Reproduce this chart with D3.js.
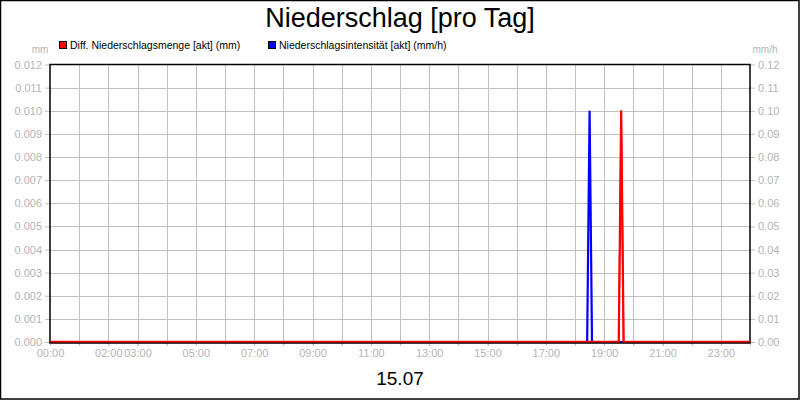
<!DOCTYPE html>
<html><head><meta charset="utf-8">
<script src="https://cdn.jsdelivr.net/npm/d3@7"></script>
<style>body{margin:0;background:#fff}svg{display:block}text{font-family:"Liberation Sans",Arial,sans-serif}</style>
</head><body>
<svg id="c" width="800" height="400"></svg>
<script>
const title = "Niederschlag [pro Tag]";
const dateLabel = "15.07";
const seriesNames = ["Diff. Niederschlagsmenge [akt] (mm)", "Niederschlagsintensität [akt] (mm/h)"];
const seriesColors = ["#ff0000", "#0000ff"];
// times in hours of the day
const mengeTimes = [0, 19.5, 19 + 35/60, 19 + 40/60, 24];
const mengeValues = [0, 0, 0.010, 0, 0];
const intensTimes = [0, 18 + 25/60, 18.5, 18 + 35/60, 24];
const intensValues = [0, 0, 0.10, 0, 0];
const xTickHours = [0, 2, 3, 5, 7, 9, 11, 13, 15, 17, 19, 21, 23];
const xTickLabels = ["00:00","02:00","03:00","05:00","07:00","09:00","11:00","13:00","15:00","17:00","19:00","21:00","23:00"];
const leftTicks = [0,0.001,0.002,0.003,0.004,0.005,0.006,0.007,0.008,0.009,0.010,0.011,0.012];
const rightTicks = [0,0.01,0.02,0.03,0.04,0.05,0.06,0.07,0.08,0.09,0.10,0.11,0.12];

const svg = d3.select("#c");
const L = 50, R = 750, T = 64.5, B = 342;
const x = d3.scaleLinear().domain([0, 24]).range([L, R]);
const yL = d3.scaleLinear().domain([0, 0.012]).range([B, T]);
const yR = d3.scaleLinear().domain([0, 0.12]).range([B, T]);
const grey = "#c0c0c0", labGrey = "#b4b4b4";

svg.append("rect").attr("x",0.5).attr("y",0.5).attr("width",798.5).attr("height",398.5)
  .attr("fill","#fff").attr("stroke","#000").attr("stroke-width",1.5);

// grid
svg.append("g").selectAll("line").data(d3.range(1,24)).join("line")
  .attr("x1", d=>Math.round(x(d))+0.5).attr("x2", d=>Math.round(x(d))+0.5)
  .attr("y1", T).attr("y2", B+4).attr("stroke", grey);
svg.append("g").selectAll("line").data(leftTicks.slice(1,-1)).join("line")
  .attr("x1", L).attr("x2", R).attr("y1", d=>Math.round(yL(d))+0.5).attr("y2", d=>Math.round(yL(d))+0.5)
  .attr("stroke", grey);

// left axis
const gl = svg.append("g").attr("transform",`translate(${L},0)`)
  .call(d3.axisLeft(yL).tickValues(leftTicks).tickFormat(d3.format(".3f")).tickSize(5).tickPadding(3));
gl.select(".domain").remove();
gl.selectAll("line").attr("stroke", grey);
gl.selectAll("text").attr("fill", labGrey).style("font-size","11px").style("font-family","'Liberation Sans',Arial,sans-serif");

// right axis
const gr = svg.append("g").attr("transform",`translate(${R},0)`)
  .call(d3.axisRight(yR).tickValues(rightTicks).tickFormat(d3.format(".2f")).tickSize(5).tickPadding(3));
gr.select(".domain").remove();
gr.selectAll("line").attr("stroke", grey);
gr.selectAll("text").attr("fill", labGrey).style("font-size","11px").style("font-family","'Liberation Sans',Arial,sans-serif");

// bottom axis
const gb = svg.append("g").attr("transform",`translate(0,${B})`)
  .call(d3.axisBottom(x).tickValues(d3.range(0,25)).tickFormat(d => {
     const i = xTickHours.indexOf(d); return i >= 0 ? xTickLabels[i] : ""; })
     .tickSize(4).tickPadding(3));
gb.select(".domain").remove();
gb.selectAll("line").attr("stroke", grey);
gb.selectAll("text").attr("fill", labGrey).style("font-size","11px").style("font-family","'Liberation Sans',Arial,sans-serif");

// units
svg.append("text").attr("x",40).attr("y",53).attr("text-anchor","middle").attr("fill",labGrey).style("font-size","10px").text("mm");
svg.append("text").attr("x",765).attr("y",53).attr("text-anchor","middle").attr("fill",labGrey).style("font-size","10px").text("mm/h");

// series
const lineI = d3.line().x(d=>x(d[0])).y(d=>yR(d[1]));
const lineM = d3.line().x(d=>x(d[0])).y(d=>yL(d[1]));
svg.append("path").datum(d3.zip(intensTimes, intensValues)).attr("d", lineI)
  .attr("fill","none").attr("stroke",seriesColors[1]).attr("stroke-width",2.2);
svg.append("path").datum(d3.zip(mengeTimes, mengeValues)).attr("d", lineM)
  .attr("fill","none").attr("stroke",seriesColors[0]).attr("stroke-width",2.2);

// frame
svg.append("rect").attr("x",L).attr("y",T).attr("width",R-L).attr("height",B-T+1)
  .attr("fill","none").attr("stroke","#000").attr("stroke-width",1.5);
svg.append("path").datum(d3.zip(mengeTimes, mengeValues)).attr("d", lineM)
  .attr("fill","none").attr("stroke",seriesColors[0]).attr("stroke-width",1.5).attr("transform","translate(0,-0.5)");

// title
svg.append("text").attr("x",400).attr("y",27).attr("text-anchor","middle").attr("fill","#000").style("font-size","27px").text(title);
svg.append("text").attr("x",400).attr("y",385).attr("text-anchor","middle").attr("fill","#000").style("font-size","19px").text(dateLabel);

// legend
const legX = [59, 268];
seriesNames.forEach((n,i) => {
  svg.append("rect").attr("x",legX[i]+0.5).attr("y",41.5).attr("width",7).attr("height",7)
    .attr("fill",seriesColors[i]).attr("stroke","#000").attr("stroke-width",1);
  svg.append("text").attr("x",legX[i]+11).attr("y",49).attr("fill","#000").style("font-size","10.5px").text(n);
});
</script>
</body></html>
